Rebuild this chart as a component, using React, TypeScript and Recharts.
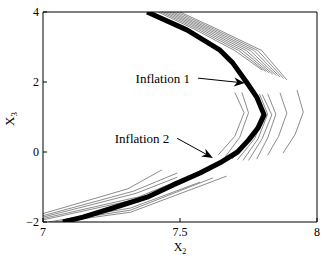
import { LineChart, Line, XAxis, YAxis, ReferenceLine, Label } from "recharts";

const xTicks = [7, 7.5, 8];
const yTicks = [-2, 0, 2, 4];

// thick black trajectory, [x2, x3]
const boldPath = [
  [7.38, 4], [7.525, 3.49], [7.646, 2.91], [7.693, 2.54], [7.745, 1.97], [7.78, 1.57],
  [7.807, 1.06], [7.785, 0.69], [7.75, 0.34], [7.71, 0], [7.646, -0.31], [7.573, -0.6],
  [7.475, -0.94], [7.38, -1.29], [7.255, -1.6], [7.146, -1.86], [7.073, -2],
];

// grey ensemble, upper pieces
const upperTraces = [
  [[7.42, 4], [7.555, 3.5], [7.7, 2.9], [7.8, 2.34]],
  [[7.431, 4], [7.567, 3.5], [7.714, 2.9], [7.813, 2.3]],
  [[7.442, 4], [7.579, 3.5], [7.728, 2.9], [7.826, 2.26]],
  [[7.453, 4], [7.591, 3.5], [7.742, 2.9], [7.839, 2.22]],
  [[7.464, 4], [7.603, 3.5], [7.756, 2.9], [7.852, 2.18]],
  [[7.475, 4], [7.615, 3.5], [7.77, 2.9], [7.865, 2.14]],
  [[7.488, 4], [7.627, 3.5], [7.784, 2.9], [7.878, 2.1]],
  [[7.5, 4], [7.639, 3.5], [7.798, 2.9], [7.89, 2.06]],
];

// grey ensemble, middle chevrons
const middleTraces = [
  [[7.7, 1.7], [7.734, 1.12], [7.7, 0.45], [7.64, -0.08]],
  [[7.726, 1.7], [7.75, 1.12], [7.718, 0.42], [7.665, -0.14]],
  [[7.77, 1.68], [7.8, 1.1], [7.76, 0.4], [7.69, -0.2]],
  [[7.78, 1.66], [7.81, 1.08], [7.772, 0.38], [7.71, -0.22]],
  [[7.79, 1.66], [7.82, 1.08], [7.785, 0.38], [7.73, -0.24]],
  [[7.8, 1.64], [7.835, 1.06], [7.8, 0.38], [7.75, -0.24]],
  [[7.82, 1.66], [7.85, 1.08], [7.82, 0.4], [7.78, -0.2]],
  [[7.865, 1.69], [7.89, 1.11], [7.86, 0.45], [7.82, -0.09]],
  [[7.927, 1.77], [7.95, 1.14], [7.92, 0.5], [7.876, -0.03]],
];

// grey ensemble, lower pieces
const lowerTraces = [
  [[7.0, -1.76], [7.31, -1.05], [7.434, -0.51]],
  [[7.0, -1.82], [7.33, -1.12], [7.49, -0.6]],
  [[7.0, -1.86], [7.34, -1.18], [7.49, -0.72]],
  [[7.0, -1.9], [7.35, -1.28], [7.5, -0.8]],
  [[7.0, -1.94], [7.36, -1.32], [7.52, -0.84]],
  [[7.02, -2], [7.32, -1.6], [7.573, -0.86]],
  [[7.04, -2], [7.32, -1.66], [7.62, -0.74]],
  [[7.06, -2], [7.32, -1.72], [7.67, -0.69]],
];

const annotations = [
  { text: "Inflation 1", from: [7.566, 2.11], to: [7.737, 1.97] },
  { text: "Inflation 2", from: [7.49, 0.39], to: [7.62, -0.17] },
];

const serif = "'Liberation Serif', 'DejaVu Serif', serif";
const toPts = (arr: number[][]) => arr.map(([x, y]) => ({ x, y }));
const fmt = (v: number) => (v < 0 ? `\u2212${-v}` : `${v}`);

function arrowShape(text: string) {
  return (p: any) => {
    const { x1, y1, x2, y2 } = p;
    const ang = Math.atan2(y2 - y1, x2 - x1);
    const L = 11, W = 4.5;
    const bx = x2 - L * Math.cos(ang), by = y2 - L * Math.sin(ang);
    const nx = x2 - L * 0.7 * Math.cos(ang), ny = y2 - L * 0.7 * Math.sin(ang);
    const px = -Math.sin(ang), py = Math.cos(ang);
    const head = `${x2},${y2} ${bx + px * W},${by + py * W} ${nx},${ny} ${bx - px * W},${by - py * W}`;
    return (
      <g>
        <line x1={x1} y1={y1} x2={nx} y2={ny} stroke="#000" strokeWidth={1} />
        <polygon points={head} fill="#000" />
        <text x={x1 - 8} y={y1 + 5} textAnchor="end" fontFamily={serif} fontSize={13} fill="#000">
          {text}
        </text>
      </g>
    );
  };
}

const XTick = ({ x, y, payload, dir, label }: any) => (
  <g>
    <line x1={x} x2={x} y1={y} y2={y + dir * 4} stroke="#000" />
    {label && (
      <text x={x} y={y + 14} textAnchor="middle" fontFamily={serif} fontSize={12} fill="#000">
        {fmt(payload.value)}
      </text>
    )}
  </g>
);

const YTick = ({ x, y, payload, dir, label }: any) => (
  <g>
    <line x1={x} x2={x + dir * 4} y1={y} y2={y} stroke="#000" />
    {label && (
      <text x={x - 4} y={y + 4} textAnchor="end" fontFamily={serif} fontSize={12} fill="#000">
        {fmt(payload.value)}
      </text>
    )}
  </g>
);

export default function App() {
  const grey = [...upperTraces, ...middleTraces, ...lowerTraces];
  return (
    <div>
      <style>{`body{margin:0;background:#fff}`}</style>
      <LineChart width={327} height={256} margin={{ top: 0, right: 0, bottom: 0, left: 0 }}>
        <XAxis
          xAxisId={0}
          dataKey="x"
          type="number"
          domain={[7, 8]}
          ticks={xTicks}
          allowDataOverflow
          height={34}
          tickSize={0}
          tickMargin={0}
          axisLine={{ stroke: "#000" }}
          tick={<XTick dir={-1} label />}
        >
          <Label
            content={({ viewBox }: any) => (
              <text x={viewBox.x + viewBox.width / 2} y={viewBox.y + 29} textAnchor="middle" fontFamily={serif} fontSize={12} fill="#000">
                X<tspan fontSize={8} dy={3}>2</tspan>
              </text>
            )}
          />
        </XAxis>
        <XAxis
          xAxisId="top"
          orientation="top"
          dataKey="x"
          type="number"
          domain={[7, 8]}
          ticks={xTicks}
          height={12}
          tickSize={0}
          tickMargin={0}
          axisLine={{ stroke: "#000" }}
          tick={<XTick dir={1} />}
        />
        <YAxis
          yAxisId={0}
          dataKey="y"
          type="number"
          domain={[-2, 4]}
          ticks={yTicks}
          allowDataOverflow
          width={43}
          tickSize={0}
          tickMargin={0}
          axisLine={{ stroke: "#000" }}
          tick={<YTick dir={1} label />}
        >
          <Label
            content={({ viewBox }: any) => {
              const cx = viewBox.x + 14;
              const cy = viewBox.y + viewBox.height / 2 + 2;
              return (
                <text x={cx} y={cy} transform={`rotate(-90 ${cx} ${cy})`} textAnchor="middle" fontFamily={serif} fontSize={13} fill="#000">
                  X<tspan fontSize={9} dy={3}>3</tspan>
                </text>
              );
            }}
          />
        </YAxis>
        <YAxis
          yAxisId="right"
          orientation="right"
          dataKey="y"
          type="number"
          domain={[-2, 4]}
          ticks={yTicks}
          width={10}
          tickSize={0}
          tickMargin={0}
          axisLine={{ stroke: "#000" }}
          tick={<YTick dir={-1} />}
        />
        {grey.map((t, i) => (
          <Line
            key={i}
            data={toPts(t)}
            dataKey="y"
            type="linear"
            stroke="#8c8c8c"
            strokeWidth={1}
            dot={false}
            isAnimationActive={false}
          />
        ))}
        <Line
          data={toPts(boldPath)}
          dataKey="y"
          type="linear"
          stroke="#000"
          strokeWidth={5}
          strokeLinejoin="round"
          dot={false}
          isAnimationActive={false}
        />
        {annotations.map((a) => (
          <ReferenceLine
            key={a.text}
            segment={[{ x: a.from[0], y: a.from[1] }, { x: a.to[0], y: a.to[1] }]}
            stroke="#000"
            ifOverflow="visible"
            shape={arrowShape(a.text)}
          />
        ))}
      </LineChart>
    </div>
  );
}
